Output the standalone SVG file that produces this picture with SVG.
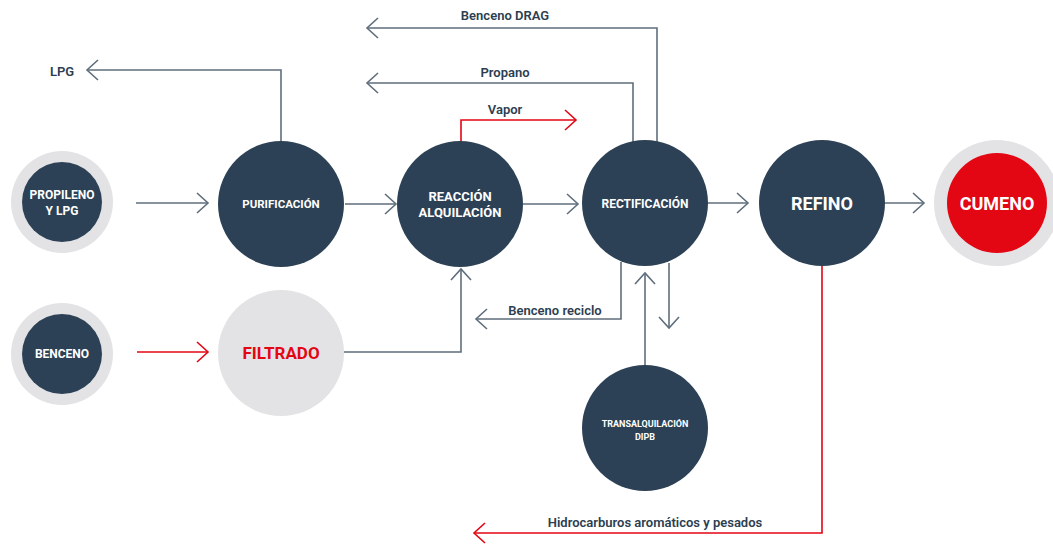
<svg xmlns="http://www.w3.org/2000/svg" width="1053" height="544" viewBox="0 0 1053 544">
<defs>
<style>
.ln{fill:none;stroke:#5f6e7c;stroke-width:1.6}
.rd{fill:none;stroke:#e30613;stroke-width:1.6}
.dk{fill:#2c4155}
.halo{fill:#e3e3e6}
.nt{font-family:Roboto,"Liberation Sans",sans-serif;font-weight:700;fill:#ffffff;text-anchor:middle}
.lb{font-family:Roboto,"Liberation Sans",sans-serif;font-weight:600;font-size:13px;fill:#2c3e50;text-anchor:middle}
</style>
<marker id="ag" viewBox="-13 -12 15 24" refX="0" refY="0" markerWidth="15" markerHeight="24" markerUnits="userSpaceOnUse" orient="auto">
<path d="M-11,-10 L0,0 L-11,10" fill="none" stroke="#5f6e7c" stroke-width="1.6"/>
</marker>
<marker id="ar" viewBox="-13 -12 15 24" refX="0" refY="0" markerWidth="15" markerHeight="24" markerUnits="userSpaceOnUse" orient="auto">
<path d="M-11,-10 L0,0 L-11,10" fill="none" stroke="#e30613" stroke-width="1.6"/>
</marker>
</defs>
<rect width="1053" height="544" fill="#ffffff"/>
<g id="connectors">
<path class="ln" d="M136,203 H208" marker-end="url(#ag)"/>
<path class="ln" d="M345,204 H396" marker-end="url(#ag)"/>
<path class="ln" d="M523,204 H578" marker-end="url(#ag)"/>
<path class="ln" d="M707,203 H748" marker-end="url(#ag)"/>
<path class="ln" d="M885,203 H924" marker-end="url(#ag)"/>
<path class="ln" d="M281,141 V70 H87" marker-end="url(#ag)"/>
<path class="ln" d="M633,142 V83 H367" marker-end="url(#ag)"/>
<path class="ln" d="M657,142 V28 H367" marker-end="url(#ag)"/>
<path class="rd" d="M461,142 V120 H576" marker-end="url(#ar)"/>
<path class="rd" d="M137,352 H208" marker-end="url(#ar)"/>
<path class="ln" d="M344,352 H461 V269" marker-end="url(#ag)"/>
<path class="ln" d="M621,262 V319 H476" marker-end="url(#ag)"/>
<path class="ln" d="M645,365 V273" marker-end="url(#ag)"/>
<path class="ln" d="M669,263 V328" marker-end="url(#ag)"/>
<path class="rd" d="M822,266 V533 H474" marker-end="url(#ar)"/>
<text class="lb" x="62" y="76">LPG</text>
<text class="lb" x="505" y="20">Benceno DRAG</text>
<text class="lb" x="505" y="77">Propano</text>
<text class="lb" x="505" y="114">Vapor</text>
<text class="lb" x="555" y="315">Benceno reciclo</text>
<text class="lb" x="655" y="527">Hidrocarburos aromáticos y pesados</text>
</g>
<g id="propileno">
<circle class="halo" cx="62" cy="202" r="51"/>
<circle class="dk" cx="62" cy="202" r="40"/>
<text class="nt" font-size="12" x="62" y="199">PROPILENO</text>
<text class="nt" font-size="12" x="62" y="215">Y LPG</text>
</g>
<g id="purificacion">
<circle class="dk" cx="281" cy="204" r="63"/>
<text class="nt" font-size="11.5" x="281" y="208">PURIFICACIÓN</text>
</g>
<g id="reaccion">
<circle class="dk" cx="460" cy="204" r="63"/>
<text class="nt" font-size="13" x="460" y="201">REACCIÓN</text>
<text class="nt" font-size="13" x="460" y="217">ALQUILACIÓN</text>
</g>
<g id="rectificacion">
<circle class="dk" cx="645" cy="203" r="63"/>
<text class="nt" font-size="12" x="645" y="208">RECTIFICACIÓN</text>
</g>
<g id="refino">
<circle class="dk" cx="822" cy="203" r="63"/>
<text class="nt" font-size="18" x="822" y="210">REFINO</text>
</g>
<g id="cumeno">
<circle class="halo" cx="997" cy="203" r="63"/>
<circle cx="997" cy="203" r="50" fill="#e30613"/>
<text class="nt" font-size="18" x="997" y="210">CUMENO</text>
</g>
<g id="benceno">
<circle class="halo" cx="62" cy="354" r="51"/>
<circle class="dk" cx="62" cy="354" r="40"/>
<text class="nt" font-size="12" x="62" y="358">BENCENO</text>
</g>
<g id="filtrado">
<circle class="halo" cx="281" cy="353" r="63"/>
<text class="nt" font-size="17" x="281" y="359" style="fill:#e30613">FILTRADO</text>
</g>
<g id="transalquilacion">
<circle class="dk" cx="645" cy="428" r="63"/>
<text class="nt" font-size="9" x="645" y="427">TRANSALQUILACIÓN</text>
<text class="nt" font-size="9" x="645" y="440">DIPB</text>
</g>
</svg>
